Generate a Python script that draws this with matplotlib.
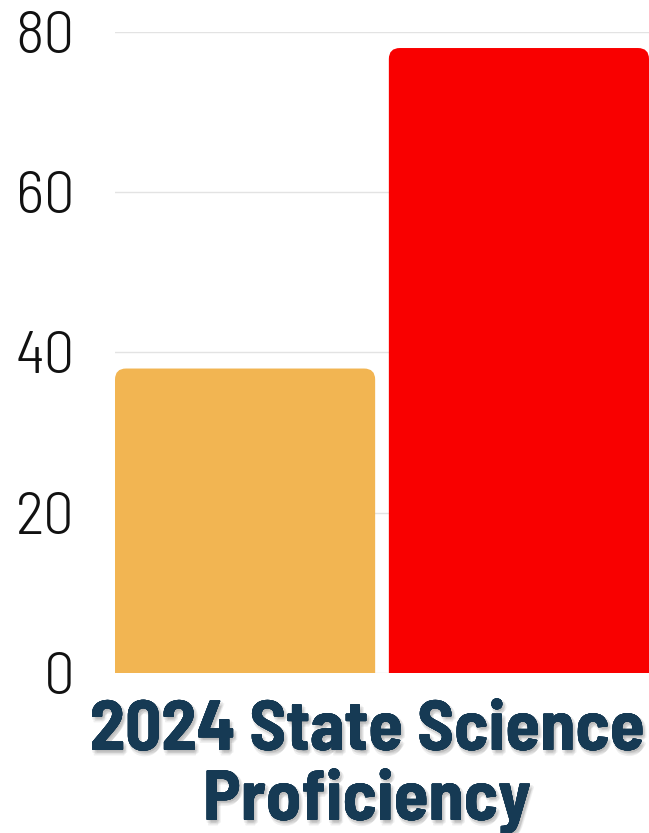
import matplotlib
matplotlib.use("Agg")
import matplotlib.pyplot as plt
import matplotlib.patheffects as pe
from matplotlib.patches import FancyBboxPatch

# data
categories = ["Group 1", "Group 2"]
values = [38, 78]
colors = ["#F2B552", "#F90000"]
yticks = [0, 20, 40, 60, 80]
title_lines = ["2024 State Science", "Proficiency"]

W, H = 649, 833
fig = plt.figure(figsize=(W / 100, H / 100), dpi=100)
fig.patch.set_facecolor("white")

bar_w = 0.95
ax = fig.add_axes([115 / W, 160 / H, 534 / W, 641 / H])
ax.set_xlim(-bar_w / 2, len(values) - 1 + bar_w / 2)
ax.set_ylim(0, 80)

bars = ax.bar(range(len(values)), values, width=bar_w, color=colors, zorder=2)

# swap plain bars for ones with rounded top corners
r_px = 11
x_per_px = (ax.get_xlim()[1] - ax.get_xlim()[0]) / 534
y_per_px = 80 / 641
rx, ry = r_px * x_per_px, r_px * y_per_px
for b in bars:
    x0, y0 = b.get_xy()
    b.set_visible(False)
    p = FancyBboxPatch((x0, y0 - ry), b.get_width(), b.get_height() + ry,
                       boxstyle=f"round,pad=0,rounding_size={rx}",
                       mutation_aspect=ry / rx,
                       facecolor=b.get_facecolor(), edgecolor="none", zorder=2)
    ax.add_patch(p)

ax.set_yticks(yticks)
ax.set_xticks([])
ax.grid(axis="y", color="#e3e3e3", linewidth=1.0, zorder=0)
ax.set_axisbelow(True)
for s in ax.spines.values():
    s.set_visible(False)
ax.tick_params(axis="y", length=0, pad=29, labelsize=44, labelcolor="#111111")
for lab in ax.get_yticklabels():
    lab.set_fontfamily("Barlow Semi Condensed")
    lab.set_fontweight(300)

shadow = [pe.withSimplePatchShadow(offset=(dx, dy), shadow_rgbFace="#000000", alpha=0.06)
          for dx, dy in [(2, -3), (3, -2), (1, -4), (0, -2), (2, -1)]]
ys = [(H - 750) / H, (H - 820) / H]
for line, yy in zip(title_lines, ys):
    fig.text(367 / W, yy, line, ha="center", va="baseline",
             fontfamily="Barlow Semi Condensed", fontweight=700,
             fontsize=51, color="#163A54", path_effects=shadow)

fig.savefig("out.png", dpi=100)
